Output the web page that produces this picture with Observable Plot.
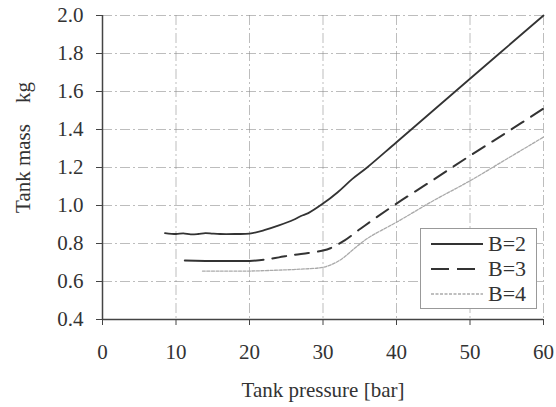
<!DOCTYPE html>
<html>
<head>
<meta charset="utf-8">
<script src="https://cdn.jsdelivr.net/npm/d3@7"></script>
<script src="https://cdn.jsdelivr.net/npm/@observablehq/plot@0.6"></script>
<style>
  body { margin: 0; background: #fff; }
  #wrap { position: relative; width: 556px; height: 407px; }
  #wrap svg text { font-family: 'Liberation Serif', 'Times New Roman', 'DejaVu Serif', serif; }
  #legend {
    position: absolute; left: 420px; top: 228px; width: 117px; height: 81px;
    border: 1px solid #999; background: #fff; box-sizing: border-box;
    font-family: 'Liberation Serif', 'Times New Roman', 'DejaVu Serif', serif; font-size: 22px; color: #333;
  }
  #legend .row { position: absolute; left: 10px; height: 24px; display: flex; align-items: center; }
  #legend svg { margin-right: 5px; }
</style>
</head>
<body>
<div id="wrap"></div>
<script>
const seriesNames = ["B=2", "B=3", "B=4"];
const b2x = [8.5, 10, 11, 12, 13, 14, 15, 16, 18, 20, 22, 24, 26, 27, 28, 30, 32, 34, 36, 40, 50, 60];
const b2y = [0.855, 0.85, 0.853, 0.848, 0.85, 0.855, 0.852, 0.85, 0.85, 0.852, 0.87, 0.895, 0.925, 0.945, 0.96, 1.01, 1.07, 1.14, 1.2, 1.333, 1.667, 2.0];
const b3x = [11.2, 14, 17, 20, 22, 24, 26, 28, 30, 31, 33, 35, 37, 40, 45, 50, 55, 60];
const b3y = [0.71, 0.708, 0.708, 0.708, 0.715, 0.727, 0.74, 0.75, 0.763, 0.775, 0.818, 0.875, 0.93, 1.01, 1.135, 1.262, 1.385, 1.51];
const b4x = [13.6, 16, 20, 24, 27, 30, 31.5, 32.6, 34, 35.1, 36.5, 37.9, 40, 45, 50, 55, 60];
const b4y = [0.655, 0.655, 0.655, 0.66, 0.665, 0.675, 0.695, 0.72, 0.765, 0.8, 0.838, 0.868, 0.912, 1.025, 1.13, 1.245, 1.36];
const xTicks = [0, 10, 20, 30, 40, 50, 60];
const yTicks = [0.4, 0.6, 0.8, 1.0, 1.2, 1.4, 1.6, 1.8, 2.0];
const xLabel = "Tank pressure [bar]";
const yLabel = "Tank mass\u00a0\u00a0\u00a0\u00a0kg";

const b2 = b2x.map((x, i) => ({x, y: b2y[i]}));
const b3 = b3x.map((x, i) => ({x, y: b3y[i]}));
const b4 = b4x.map((x, i) => ({x, y: b4y[i]}));

const grid = {stroke: "#888", strokeOpacity: 0.7, strokeWidth: 0.8, strokeDasharray: "10,3,2,3"};

const chart = Plot.plot({
  width: 556,
  height: 407,
  marginLeft: 102,
  marginRight: 13,
  marginTop: 15,
  marginBottom: 88,
  style: "font-family: 'Liberation Serif', 'Times New Roman', serif; font-size: 21px; color: #333; background: #fff;",
  x: {domain: [0, 60]},
  y: {domain: [0.4, 2.0]},
  marks: [
    Plot.gridX(xTicks, grid),
    Plot.gridY(yTicks, grid),
    Plot.ruleX([0], {stroke: "#444", strokeWidth: 1.5}),
    Plot.ruleY([0.4], {stroke: "#444", strokeWidth: 1.5}),
    Plot.axisX(xTicks, {tickSize: 6, tickPadding: 19, tickFormat: d => d, label: null, stroke: "#444", fontSize: 21}),
    Plot.axisY(yTicks, {tickSize: 6, tickPadding: 13, tickFormat: d3.format(".1f"), label: null, stroke: "#444", fontSize: 21}),
    Plot.text([xLabel], {frameAnchor: "bottom", lineAnchor: "middle", textAnchor: "middle", dy: 71, fontSize: 21, fill: "#333"}),
    Plot.text([yLabel], {frameAnchor: "left", rotate: -90, textAnchor: "middle", lineAnchor: "middle", dx: -79, dy: -20, fontSize: 21, fill: "#333"}),
    Plot.line(b4, {x: "x", y: "y", stroke: "#aaa", strokeWidth: 1.3, strokeDasharray: "3,1.5", curve: "catmull-rom"}),
    Plot.line(b3.filter(d => d.x <= 20), {x: "x", y: "y", stroke: "#333", strokeWidth: 2}),
    Plot.line(b3.filter(d => d.x >= 20), {x: "x", y: "y", stroke: "#333", strokeWidth: 2, strokeDasharray: "14,9", curve: "catmull-rom"}),
    Plot.line(b2, {x: "x", y: "y", stroke: "#333", strokeWidth: 1.8, curve: "catmull-rom"})
  ]
});

const wrap = document.getElementById("wrap");
wrap.appendChild(chart);

const legend = document.createElement("div");
legend.id = "legend";
const styles = [
  {stroke: "#333", w: 1.8, dash: ""},
  {stroke: "#333", w: 2, dash: "18,8"},
  {stroke: "#aaa", w: 1.3, dash: "3,1.5"}
];
seriesNames.forEach((name, i) => {
  const row = document.createElement("div");
  row.className = "row";
  row.style.top = (3 + i * 25) + "px";
  const s = styles[i];
  row.innerHTML = `<svg width="52" height="10"><line x1="0" x2="52" y1="5" y2="5" stroke="${s.stroke}" stroke-width="${s.w}" stroke-dasharray="${s.dash}"/></svg><span>${name}</span>`;
  legend.appendChild(row);
});
wrap.appendChild(legend);
</script>
</body>
</html>
